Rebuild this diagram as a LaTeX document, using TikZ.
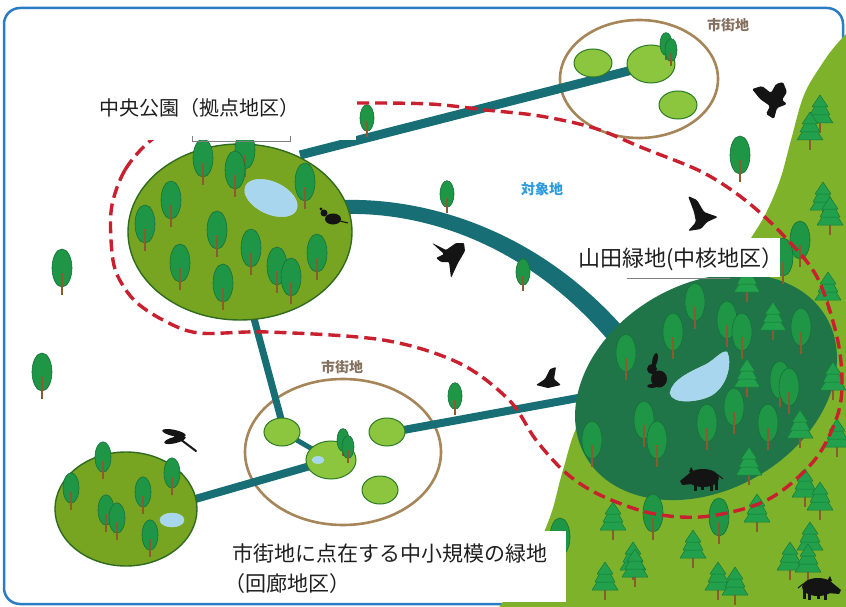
\documentclass[tikz,border=0pt]{standalone}
\usepackage{fontspec}
\newfontfamily\jp{Noto Sans CJK JP}

\definecolor{frameblue}{HTML}{2A7DC4}
\definecolor{hillgreen}{HTML}{7EB22B}
\definecolor{parkgreen}{HTML}{77A522}
\definecolor{parkedge}{HTML}{2F6B1F}
\definecolor{coregreen}{HTML}{207548}
\definecolor{crowngreen}{HTML}{1F9646}
\definecolor{crownedge}{HTML}{16703A}
\definecolor{pinegreen}{HTML}{22A04C}
\definecolor{pineedge}{HTML}{167A38}
\definecolor{trunkbrown}{HTML}{8B5A2E}
\definecolor{corridorteal}{HTML}{176E74}
\definecolor{routered}{HTML}{C8202F}
\definecolor{ringbrown}{HTML}{A68558}
\definecolor{patchgreen}{HTML}{8CC63F}
\definecolor{patchedge}{HTML}{2C7A25}
\definecolor{pondblue}{HTML}{A8D6EE}
\definecolor{towntext}{HTML}{857160}
\definecolor{sitetext}{HTML}{2E9BDE}

\tikzset{
  roundtree/.pic={
    \fill[crowngreen, draw=crownedge, line width=0.6] (0,0) ellipse [x radius=10, y radius=19];
    \draw[trunkbrown, line width=2.4] (0,5) -- (0,27);
  },
  pinetree/.pic={
    \draw[trunkbrown, line width=2.6] (0,8) -- (0,20);
    \filldraw[fill=pinegreen, draw=pineedge, line width=0.5, line join=round] (-6,-1) -- (-13,10) -- (13,10) -- (6,-1) -- cycle;
    \filldraw[fill=pinegreen, draw=pineedge, line width=0.5, line join=round] (-4,-9) -- (-10,2) -- (10,2) -- (4,-9) -- cycle;
    \filldraw[fill=pinegreen, draw=pineedge, line width=0.5, line join=round] (0,-18) -- (-8,-6) -- (8,-6) -- cycle;
  },
  boar/.pic={
    \fill[black!92] (0,0) ellipse [x radius=16, y radius=9];
    \fill[black!92] (-12,-6) -- (-23,3) -- (-21,7) -- (-10,6) -- cycle;
    \fill[black!92] (-14,-6) -- (-12,-11) -- (-9,-6) -- cycle;
    \fill[black!92] (-9,4) rectangle (-6,13);
    \fill[black!92] (-2,5) rectangle (1,12);
    \fill[black!92] (7,5) rectangle (10,13);
    \fill[black!92] (12,3) rectangle (15,12);
    \draw[black!92, line width=1] (15,-3) -- (20,1);
  },
  corridorline/.style={draw=corridorteal, line width=#1},
  greenpatch/.style={fill=patchgreen, draw=patchedge, line width=1},
  cityring/.style={draw=ringbrown, line width=2.6},
  parkdisc/.style={fill=parkgreen, draw=parkedge, line width=1.4},
  pondpatch/.style={fill=pondblue, draw=pondblue!85!white, line width=0.5},
  silhouette/.style={fill=black!92},
  labelbox/.style={fill=white, draw=none},
  bigtext/.style={font=\jp\fontsize{#1}{#1}\selectfont, text=black!88, inner sep=0pt},
  smalltext/.style={font=\jp\bfseries\fontsize{14}{14}\selectfont, inner sep=0pt},
}

\begin{document}
\begin{tikzpicture}[x=1pt, y=-1pt]
\useasboundingbox (0,0) rectangle (846,607);
\clip (0,0) rectangle (846,607);
\fill[white] (0,0) rectangle (846,607);

% frame
\draw[frameblue, line width=2.5, rounded corners=16] (4,8) rectangle (843,604);

% forested hillside
\fill[hillgreen] plot[smooth, tension=0.6] coordinates {(852,28) (836,45) (822,64) (804,95) (791,140) (780,180) (765,215) (747,245) (730,280) (690,320) (620,360) (580,420) (563,470) (550,517) (528,565) (497,610)} -- (852,610) -- cycle;

% town rings
\draw[cityring] (639,79) ellipse [x radius=79, y radius=59];
\draw[cityring] (343,452) ellipse [x radius=98, y radius=73];

% green corridors
\draw[corridorline=9] (300,155) -- (640,68);
\draw[corridorline=7] (249,300) -- (284,430);
\draw[corridorline=5] (283,432) -- (331,460);
\draw[corridorline=8] (331,460) -- (150,512);
\draw[corridorline=8] (387,433) -- (600,394);
\fill[corridorteal] (345,200) .. controls (430,198) and (545,232) .. (633,339) -- (617,351) .. controls (535,248) and (430,212) .. (345,214) -- cycle;

% small green spaces in the towns
\draw[greenpatch] (593,63) ellipse [x radius=19, y radius=14];
\draw[greenpatch] (651,64) ellipse [x radius=24, y radius=19];
\draw[greenpatch] (678,105) ellipse [x radius=19, y radius=14];
\draw[greenpatch] (282,432) ellipse [x radius=18, y radius=14];
\draw[greenpatch] (331,460) ellipse [x radius=25, y radius=19];
\draw[greenpatch] (387,432) ellipse [x radius=18, y radius=14];
\draw[greenpatch] (380,490) ellipse [x radius=18, y radius=14];
\fill[pondpatch] (318,460) ellipse [x radius=6, y radius=3.5];

% parks
\draw[parkdisc] (240,232) ellipse [x radius=112, y radius=88];
\draw[parkdisc] (126,509) ellipse [x radius=71, y radius=57];
\fill[coregreen, rotate around={30:(706,387)}] (706,387) ellipse [x radius=139, y radius=103];

% ponds
\fill[pondpatch, rotate around={-25:(271,198)}] (271,198) ellipse [x radius=28, y radius=16];
\fill[pondpatch] (172,520) ellipse [x radius=12, y radius=7];
\fill[pondpatch] (670,393) .. controls (672,380) and (690,372) .. (705,365) .. controls (715,360) and (722,350) .. (727,352) .. controls (732,362) and (728,385) .. (712,395) .. controls (700,402) and (672,405) .. cycle;

% conifers on the hillside
\foreach \px/\py in {820/113, 810/130, 823/200, 830/215, 747/282, 828/290, 773/320, 747/377, 833/380, 800/428, 837/437, 749/465, 805/487, 820/500, 613/520, 757/512, 633/560, 693/548, 605/580, 718/580, 735/585, 790/560, 810/540, 808/562, 635/567}
  \pic at (\px,\py) {pinetree};

% broadleaf trees on the hillside and in the core green
\foreach \px/\py in {740/155, 800/240, 783/257, 695/302, 673/332, 727/320, 742/332, 626/353, 801/327, 780/380, 789/387, 707/423, 644/420, 657/440, 734/407, 768/423, 592/440, 653/513, 719/517, 560/537}
  \pic at (\px,\py) {roundtree};

% trees in the central park
\foreach \px/\py in {245/150, 203/158, 235/170, 305/182, 171/200, 145/224, 217/230, 251/248, 317/253, 180/263, 277/266, 291/277, 223/283}
  \pic at (\px,\py) {roundtree};

% trees in the small park
\foreach \px/\py in {103/457, 71/488, 172/473, 143/492, 106/510, 117/518, 150/535}
  \pic[scale=0.8] at (\px,\py) {roundtree};

% scattered trees
\pic[scale=0.6] at (666,44) {roundtree};
\pic[scale=0.6] at (671,50) {roundtree};
\pic[scale=0.6] at (343,440) {roundtree};
\pic[scale=0.6] at (348,447) {roundtree};
\pic[scale=0.7] at (367,118) {roundtree};
\pic[scale=0.7] at (447,194) {roundtree};
\pic[scale=0.7] at (523,272) {roundtree};
\pic[scale=0.7] at (455,396) {roundtree};
\pic at (62,268) {roundtree};
\pic at (42,372) {roundtree};

% boundary of the study area
\draw[routered, line width=3.4, dash pattern=on 12pt off 6pt] plot[smooth cycle, tension=0.55] coordinates {(150,141) (125,170) (112,205) (111,240) (116,272) (134,300) (163,320) (199,333) (268,332) (383,340) (459,363) (509,400) (536,440) (566,473) (600,495) (650,513) (700,517) (750,507) (783,490) (817,457) (837,417) (842,383) (837,337) (817,277) (783,235) (745,200) (702,172) (643,148) (594,128) (540,116) (486,110) (430,104) (356,103) (290,104) (220,112) (180,125)};

% wildlife: birds
\fill[silhouette, rounded corners=1.5] (752,89) -- (762,86) -- (771,93) -- (776,84) -- (783,82) -- (787,92) -- (782,100) -- (787,104) -- (777,108) -- (774,119) -- (766,114) -- (770,106) -- (760,99) -- cycle;
\fill[silhouette, rounded corners=1.5] (688,196) -- (697,200) -- (704,212) -- (718,217) -- (707,222) -- (701,229) -- (688,231) -- (696,222) -- (694,212) -- cycle;
\fill[silhouette, rounded corners=1] (432,243) -- (446,250) -- (456,243) -- (464,243) -- (465,251) -- (458,263) -- (451,278) -- (449,262) -- (441,262) -- (436,258) -- (444,254) -- cycle;
\fill[silhouette, rounded corners=1] (536,385) -- (545,379) -- (550,369) -- (556,367) -- (554,379) -- (561,385) -- (548,388) -- cycle;
% dragonfly
\draw[black!92, line width=2, line cap=round] (176,436) -- (196,451);
\fill[silhouette, rotate around={-12:(174,433)}] (174,433) ellipse [x radius=12, y radius=3.2];
\fill[silhouette, rotate around={14:(175,440)}] (175,440) ellipse [x radius=11, y radius=3.2];
\fill[silhouette] (177,436) circle (3);
% rabbit
\fill[silhouette] (659,379) ellipse [x radius=8, y radius=8.5];
\fill[silhouette] (652,369) circle (5);
\fill[silhouette, rotate around={-12:(655,360)}] (655,360) ellipse [x radius=2.6, y radius=7];
\fill[silhouette] (652,386) ellipse [x radius=5, y radius=2];
% mole
\fill[silhouette] (333,219) ellipse [x radius=8, y radius=5.5];
\fill[silhouette] (324,213) circle (3.5);
\fill[silhouette] (321,209) circle (1.6);
\draw[black!92, line width=1] (340,221) -- (348,223);
% boars
\pic at (703,478) {boar};
\pic[xscale=-1] at (818,587) {boar};

% small labels
\node[smalltext, text=towntext] (towntop) at (728,25) {市街地};
\node[smalltext, text=towntext] (townlow) at (342,367) {市街地};
\node[smalltext, text=sitetext] (site) at (542,189) {対象地};

% main labels
\fill[labelbox] (60,84) rectangle (356,140);
\draw[gray, line width=0.8] (192,136) -- (192,141) -- (290,141) -- (290,136);
\node[bigtext=20, anchor=base west] (parklabel) at (99,116) {中央公園（拠点地区）};

\fill[labelbox] (575,238) rectangle (780,277);
\draw[gray, line width=0.8] (627,278) -- (730,278);
\node[bigtext=22, anchor=base west] (corelabel) at (578,266) {山田緑地(中核地区）};

\fill[labelbox] (228,531) rectangle (566,602);
\node[bigtext=21, anchor=base west] (corridorlabel) at (232,561) {市街地に点在する中小規模の緑地};
\node[bigtext=21, anchor=base west] (corridorlabelb) at (224,591) {（回廊地区）};
\end{tikzpicture}
\end{document}
